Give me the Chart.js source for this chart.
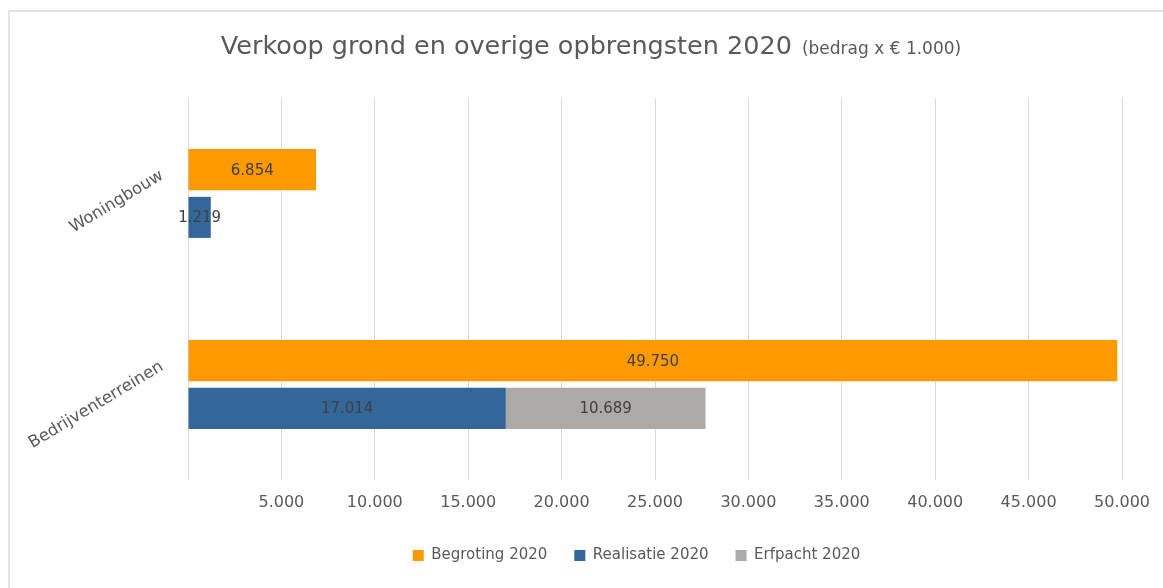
<!DOCTYPE html>
<html>
<head>
<meta charset="utf-8">
<script src="https://cdn.jsdelivr.net/npm/chart.js@4"></script>
<style>
  html, body { margin: 0; padding: 0; background: #fff; }
  #wrap { width: 1163px; height: 588px; }
</style>
</head>
<body>
<div id="wrap"><canvas id="chart" width="1163" height="588"></canvas></div>
<script>
// categorieën en waarden (x € 1.000)
var categories = ["Woningbouw", "Bedrijventerreinen"];
var begroting = [6854, 49750];
var realisatie = [1219, 17014];
var erfpacht = [null, 10689];
var xTicks = [0, 5000, 10000, 15000, 20000, 25000, 30000, 35000, 40000, 45000, 50000];

var FONT = "'DejaVu Sans', Verdana, sans-serif";
var grey = "#595959";

function fmt(v) {
  return v.toString().replace(/\B(?=(\d{3})+(?!\d))/g, ".");
}

// titel + rand
var titlePlugin = {
  id: "titel",
  beforeDraw: function (chart) {
    var c = chart.ctx;
    c.save();
    c.strokeStyle = "#e3e3e3";
    c.lineWidth = 2;
    c.beginPath();
    c.moveTo(9, 588);
    c.lineTo(9, 11);
    c.lineTo(1163, 11);
    c.stroke();

    var main = "Verkoop grond en overige opbrengsten 2020";
    var sub = "(bedrag x \u20ac 1.000)";
    c.font = "25.5px " + FONT;
    var w1 = c.measureText(main).width;
    c.font = "17px " + FONT;
    var w2 = c.measureText(sub).width;
    var gap = 10;
    var x0 = 591 - (w1 + gap + w2) / 2;
    c.fillStyle = grey;
    c.textBaseline = "alphabetic";
    c.textAlign = "left";
    c.font = "25.5px " + FONT;
    c.fillText(main, x0, 54);
    c.font = "17px " + FONT;
    c.fillText(sub, x0 + w1 + gap, 54);
    c.restore();
  }
};

// schuine categorielabels
var catLabels = {
  id: "catLabels",
  afterDraw: function (chart) {
    var c = chart.ctx;
    var y = chart.scales.y;
    c.save();
    c.font = "16.5px " + FONT;
    c.fillStyle = grey;
    c.textAlign = "right";
    c.textBaseline = "middle";
    categories.forEach(function (lab, i) {
      var py = y.getPixelForTick(i);
      c.save();
      c.translate(162, py - 19);
      c.rotate(-31 * Math.PI / 180);
      c.fillText(lab, 0, 0);
      c.restore();
    });
    c.restore();
  }
};

// waardes in de balken
var valueLabels = {
  id: "valueLabels",
  afterDatasetsDraw: function (chart) {
    var c = chart.ctx;
    c.save();
    c.font = "15px " + FONT;
    c.fillStyle = "#404040";
    c.textAlign = "center";
    c.textBaseline = "middle";
    chart.data.datasets.forEach(function (ds, di) {
      var meta = chart.getDatasetMeta(di);
      meta.data.forEach(function (bar, i) {
        var v = ds.data[i];
        if (v == null) return;
        var p = bar.getProps(["x", "y", "base"], true);
        c.fillText(fmt(v), (p.x + p.base) / 2, p.y + 1);
      });
    });
    c.restore();
  }
};

new Chart(document.getElementById("chart").getContext("2d"), {
  type: "bar",
  data: {
    labels: categories,
    datasets: [
      { label: "Begroting 2020", data: begroting, backgroundColor: "#FF9900", stack: "a" },
      { label: "Realisatie 2020", data: realisatie, backgroundColor: "#336699", stack: "b" },
      { label: "Erfpacht 2020", data: erfpacht, backgroundColor: "#ADA9A7", stack: "b" }
    ]
  },
  options: {
    indexAxis: "y",
    responsive: false,
    animation: false,
    datasets: {
      bar: { categoryPercentage: 0.5, barPercentage: 0.86 }
    },
    layout: { padding: { top: 98, left: 150, right: 40, bottom: 15 } },
    scales: {
      x: {
        stacked: true,
        min: 0,
        max: 50000,
        afterBuildTicks: function (s) {
          s.ticks = xTicks.map(function (v) { return { value: v }; });
        },
        afterFit: function (s) { s.height = 41; },
        border: { display: false },
        grid: { color: "#d9d9d9", drawTicks: false },
        ticks: {
          padding: 13,
          color: grey,
          font: { family: FONT, size: 16 },
          callback: function (v) { return v === 0 ? "" : fmt(v); }
        }
      },
      y: {
        stacked: true,
        afterFit: function (s) { s.width = 38; },
        border: { display: false },
        grid: { display: false },
        ticks: { display: false }
      }
    },
    plugins: {
      title: { display: false },
      tooltip: { enabled: false },
      legend: {
        position: "bottom",
        labels: {
          boxWidth: 11,
          boxHeight: 11,
          padding: 27,
          color: grey,
          font: { family: FONT, size: 15 }
        }
      }
    }
  },
  plugins: [titlePlugin, catLabels, valueLabels]
});
</script>
</body>
</html>
